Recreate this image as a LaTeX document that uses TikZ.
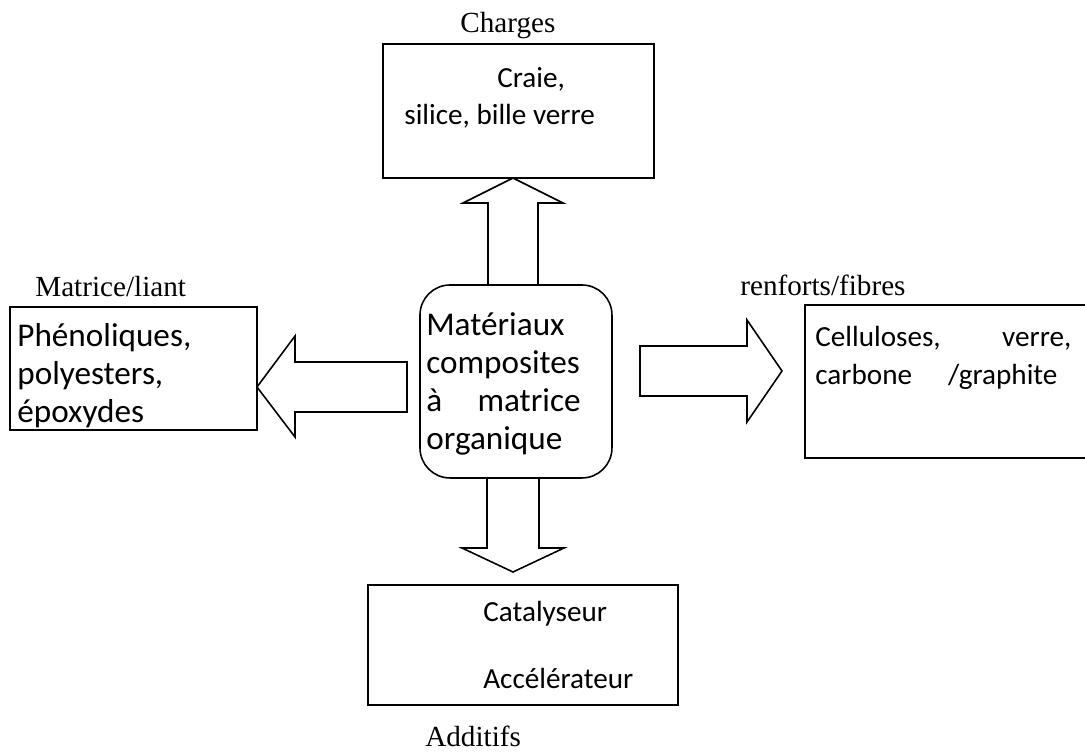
\documentclass[tikz,border=0pt]{standalone}
\usepackage{fontspec}
\setmainfont{Liberation Serif}
\newfontfamily\calib{Carlito}
\begin{document}
\begin{tikzpicture}[x=0.02cm,y=-0.02cm,
  box/.style={draw, line width=0.9pt, inner sep=0pt, outer sep=0pt, anchor=north west},
  blk/.style={draw, line width=0.9pt, line join=miter},
  lab/.style={font=\fontsize{16.6}{20}\selectfont, anchor=base west, inner sep=0pt},
  txt/.style={font=\calib\fontsize{16.6}{20}\selectfont, anchor=base west, inner sep=0pt},
  bigtxt/.style={font=\calib\fontsize{18.9}{22}\selectfont, anchor=base west, inner sep=0pt}]
\useasboundingbox (0,0) rectangle (1085,756);
\clip (0,0) rectangle (1085,756);
% boxes
\node[box, minimum width=5.42cm, minimum height=2.68cm] (charges) at (383,44) {};
\node[box, minimum width=3.84cm, minimum height=3.86cm, rounded corners=0.6cm] (center) at (420,285) {};
\node[box, minimum width=6.2cm, minimum height=2.4cm] (additifs) at (368,585) {};
\node[box, minimum width=4.94cm, minimum height=2.46cm] (matrice) at (10,307) {};
\node[box, minimum width=5.9cm, minimum height=3.06cm] (renforts) at (805,305) {};
% block arrows
\draw[blk] (488,285) -- (488,203) -- (463,203) -- (513,178) -- (563,203) -- (538,203) -- (538,285);
\draw[blk] (487,478) -- (487,548) -- (462,548) -- (513,572) -- (564,548) -- (539,548) -- (539,478);
\draw[blk] (407,362) -- (295,362) -- (295,336) -- (257,387) -- (295,437) -- (295,412) -- (407,412) -- cycle;
\draw[blk] (640,346) -- (747,346) -- (747,320) -- (782,371) -- (747,422) -- (747,396) -- (640,396) -- cycle;
% labels
\node[lab] (lcharges) at (460,33) {Charges};
\node[lab] (lmatrice) at (35,297) {Matrice/liant};
\node[lab] (lrenforts) at (740,296) {renforts/fibres};
\node[lab] (ladditifs) at (425,746) {Additifs};
% texts
\node[txt] (t1) at (497,88) {Craie,};
\node[txt] (t2) at (404,125) {silice, bille verre};
\node[bigtxt] (t3) at (17,347) {Phénoliques,};
\node[bigtxt] (t4) at (17,385) {polyesters,};
\node[bigtxt] (t5) at (17,423) {époxydes};
\node[bigtxt] (c1) at (426,336) {Matériaux};
\node[bigtxt] (c2) at (426,374) {composites};
\node[bigtxt] (c3) at (426,412) {\makebox[4.645em][s]{à\hfill matrice}};
\node[bigtxt] (c4) at (426,450) {organique};
\node[txt] (r1) at (815,347) {\makebox[145.7pt][s]{Celluloses,\hfill verre,}};
\node[txt] (r2) at (815,385) {\makebox[137.8pt][s]{carbone\hfill /graphite}};
\node[txt] (a1) at (483,621) {Catalyseur};
\node[txt] (a2) at (483,688) {Accélérateur};
\end{tikzpicture}
\end{document}
